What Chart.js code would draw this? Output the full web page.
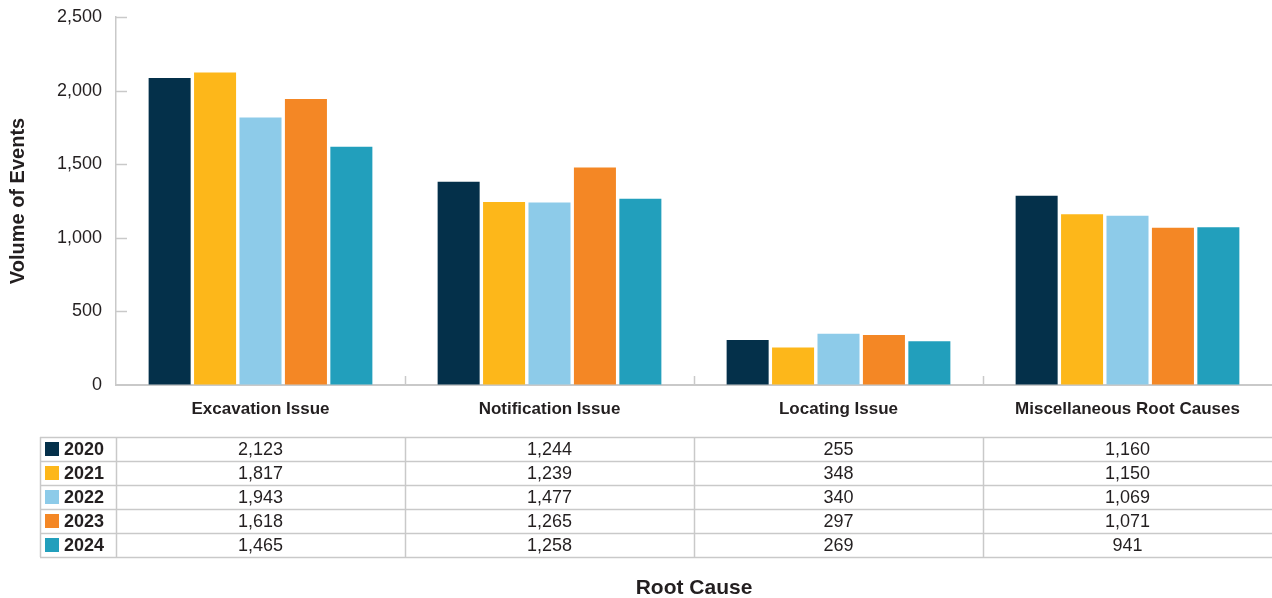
<!DOCTYPE html>
<html>
<head>
<meta charset="utf-8">
<title>Volume of Events by Root Cause</title>
<script src="https://cdn.jsdelivr.net/npm/chart.js@4.4.1/dist/chart.umd.min.js"></script>
<style>
  html, body { margin: 0; padding: 0; background: #ffffff; }
  #wrap { width: 1272px; height: 598px; position: relative; }
</style>
</head>
<body>
<div id="wrap"><canvas id="chart" width="1272" height="598"></canvas></div>
<script>
// Root cause categories
const categories = ['Excavation Issue', 'Notification Issue', 'Locating Issue', 'Miscellaneous Root Causes'];

// Yearly event counts per root cause
const v2019 = [2086, 1380, 306, 1285];
const v2020 = [2123, 1244, 255, 1160];
const v2021 = [1817, 1239, 348, 1150];
const v2022 = [1943, 1477, 340, 1069];
const v2023 = [1618, 1265, 297, 1071];
const v2024 = [1465, 1258, 269, 941];

// Bars plot 2019–2023; the data table underneath lists 2020–2024
const barSeries = [v2019, v2020, v2021, v2022, v2023];
const tableYears = ['2020', '2021', '2022', '2023', '2024'];
const tableRows = [v2020, v2021, v2022, v2023, v2024];

// Y axis ticks
const yTicks = [0, 500, 1000, 1500, 2000, 2500];

const palette = ['#04304a', '#fdb71a', '#8dcbe9', '#f48725', '#229fbc'];
const FONT = "'Liberation Sans', Arial, Helvetica, sans-serif";
const TEXT = '#231f20';
const LINE = '#c9c9c9';

const fmt = n => n.toLocaleString('en-US');

// Inward tick marks on both axes plus the data table below the plot
const axisAndTable = {
  id: 'axisAndTable',
  afterDraw(chart) {
    const { ctx, chartArea: ca, scales: { x, y } } = chart;
    ctx.save();
    ctx.strokeStyle = LINE;
    ctx.lineWidth = 1.5;

    // y ticks pointing into the plot
    y.ticks.forEach(t => {
      if (t.value === 0) return;
      const py = Math.round(y.getPixelForValue(t.value)) + 0.5;
      ctx.beginPath();
      ctx.moveTo(ca.left, py);
      ctx.lineTo(ca.left + 11, py);
      ctx.stroke();
    });

    // category separators on the x axis
    const bounds = [ca.left];
    for (let i = 1; i < categories.length; i++) {
      bounds.push((x.getPixelForValue(i - 1) + x.getPixelForValue(i)) / 2);
    }
    bounds.push(ca.right);
    for (let i = 1; i < categories.length; i++) {
      const bx = Math.round(bounds[i]) + 0.5;
      ctx.beginPath();
      ctx.moveTo(bx, ca.bottom - 9);
      ctx.lineTo(bx, ca.bottom);
      ctx.stroke();
    }

    // data table
    const tLeft = 40;
    const tTop = ca.bottom + 52;
    const rowH = 24;
    const tBottom = tTop + rowH * tableYears.length;

    ctx.strokeStyle = LINE;
    ctx.lineWidth = 1.5;
    for (let r = 0; r <= tableYears.length; r++) {
      const ly = Math.round(tTop + r * rowH) + 0.5;
      ctx.beginPath();
      ctx.moveTo(tLeft, ly);
      ctx.lineTo(ca.right, ly);
      ctx.stroke();
    }
    const vLines = [tLeft].concat(bounds.slice(0, categories.length));
    vLines.forEach(vx => {
      const lx = Math.round(vx) + 0.5;
      ctx.beginPath();
      ctx.moveTo(lx, tTop);
      ctx.lineTo(lx, tBottom);
      ctx.stroke();
    });

    ctx.textBaseline = 'middle';
    tableYears.forEach((yr, r) => {
      const cy = tTop + r * rowH + rowH / 2;
      ctx.fillStyle = palette[r];
      ctx.fillRect(tLeft + 5, cy - 7, 14, 14);
      ctx.fillStyle = TEXT;
      ctx.textAlign = 'left';
      ctx.font = `bold 18px ${FONT}`;
      ctx.fillText(yr, tLeft + 24, cy + 1);
      ctx.textAlign = 'center';
      ctx.font = `18px ${FONT}`;
      tableRows[r].forEach((val, c) => {
        ctx.fillText(fmt(val), x.getPixelForValue(c), cy + 1);
      });
    });
    ctx.restore();
  }
};

new Chart(document.getElementById('chart'), {
  type: 'bar',
  data: {
    labels: categories,
    datasets: barSeries.map((vals, i) => ({
      label: String(2019 + i),
      data: vals,
      backgroundColor: palette[i],
      borderWidth: 0,
      categoryPercentage: 0.786,
      barPercentage: 0.925
    }))
  },
  options: {
    responsive: false,
    animation: false,
    layout: { padding: { top: 17, right: 0, left: 0, bottom: 0 } },
    plugins: {
      legend: { display: false },
      tooltip: { enabled: false }
    },
    scales: {
      x: {
        afterFit(scale) { scale.height = 213; scale.paddingLeft = 0; scale.paddingRight = 0; },
        grid: { display: true, drawOnChartArea: false, drawTicks: false },
        border: { display: true, color: LINE, width: 2 },
        ticks: {
          padding: 14,
          color: TEXT,
          font: { family: FONT, size: 17, weight: 'bold' },
          maxRotation: 0,
          autoSkip: false
        },
        title: {
          display: true,
          text: 'Root Cause',
          color: TEXT,
          font: { family: FONT, size: 21, weight: 'bold', lineHeight: 0.9 },
          padding: { top: 0, bottom: 0 }
        }
      },
      y: {
        min: 0,
        max: 2500,
        afterFit(scale) { scale.width = 116; scale.paddingTop = 0; scale.paddingBottom = 0; },
        afterBuildTicks(scale) { scale.ticks = yTicks.map(v => ({ value: v })); },
        grid: { display: true, drawOnChartArea: false, drawTicks: false },
        border: { display: true, color: LINE, width: 1.5 },
        ticks: {
          padding: 14,
          color: TEXT,
          font: { family: FONT, size: 18 },
          callback: v => fmt(v)
        },
        title: {
          display: true,
          text: 'Volume of Events',
          color: TEXT,
          font: { family: FONT, size: 20, weight: 'bold' },
          padding: { top: 6, bottom: 0 }
        }
      }
    }
  },
  plugins: [axisAndTable]
});
</script>
</body>
</html>
